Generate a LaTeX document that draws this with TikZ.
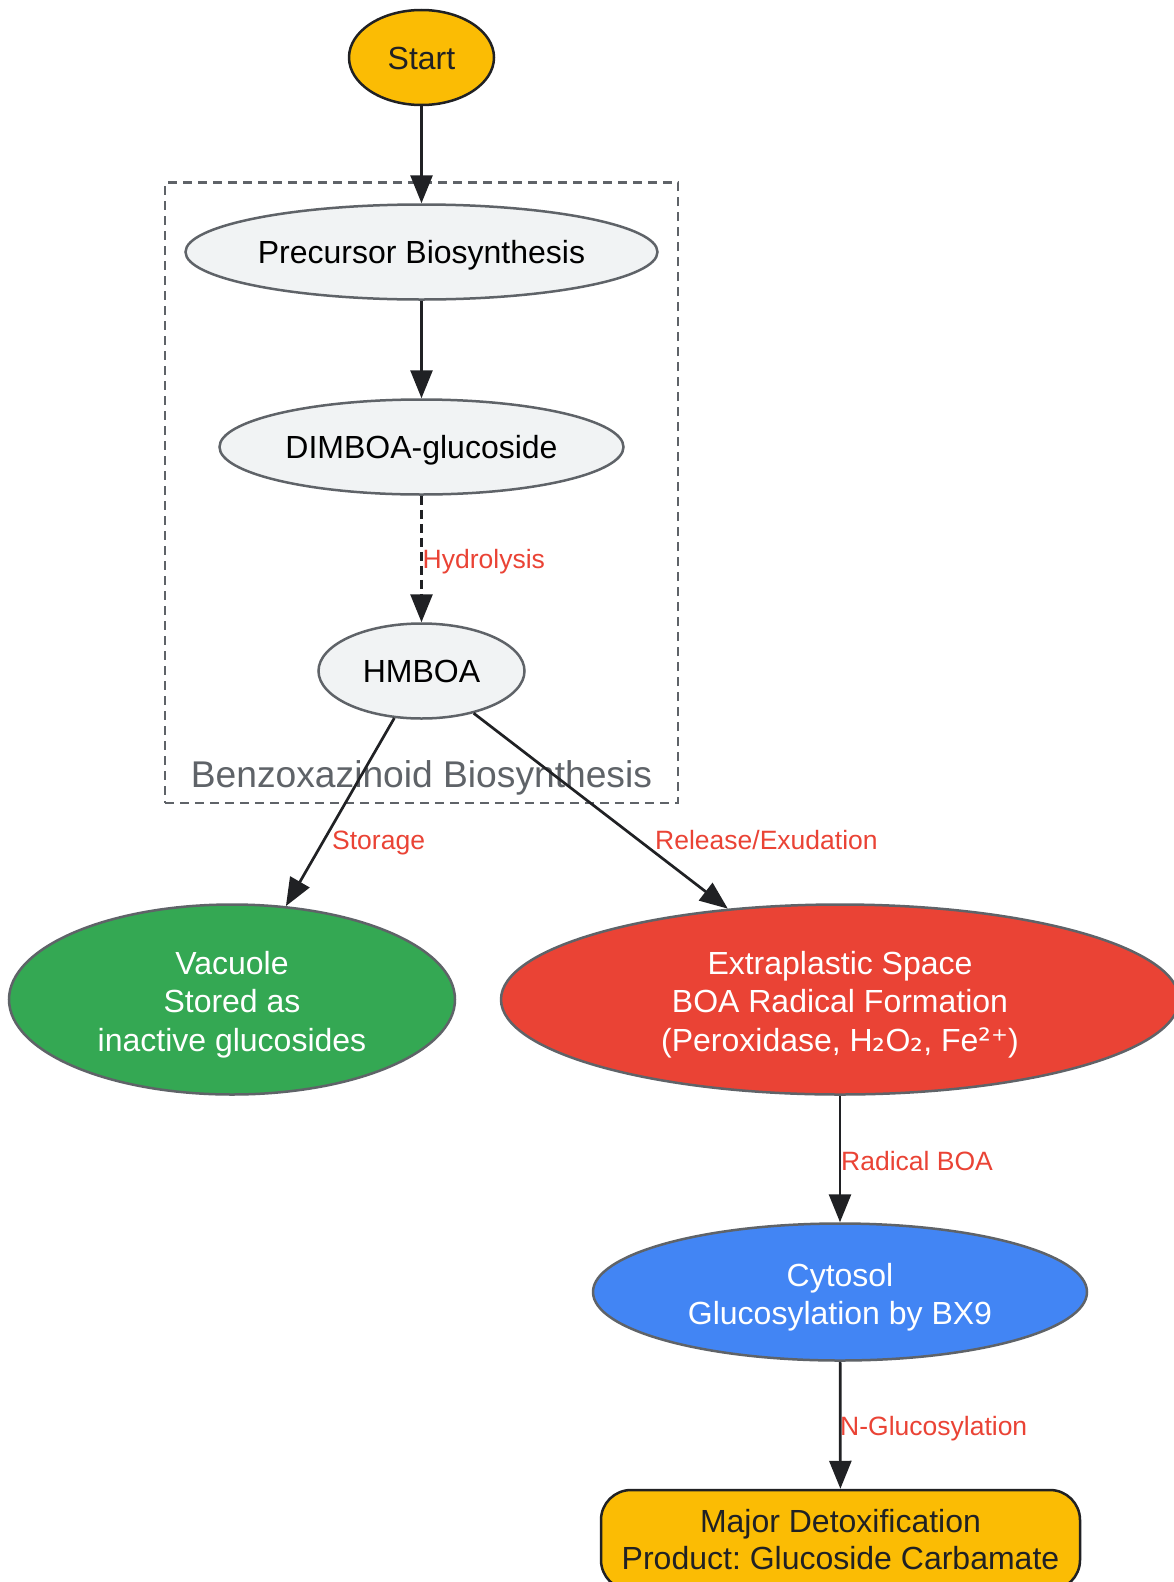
\documentclass[tikz,border=0pt]{standalone}
\usepackage{fontspec}
\setmainfont{Liberation Sans}
\newfontfamily\dvfont{DejaVu Sans}
\usetikzlibrary{shapes.geometric,arrows.meta}
\frenchspacing
\definecolor{cgrey}{HTML}{5F6368}
\definecolor{cfill}{HTML}{F1F3F4}
\definecolor{cyel}{HTML}{FBBC04}
\definecolor{cgreen}{HTML}{34A853}
\definecolor{cred}{HTML}{EA4335}
\definecolor{cblue}{HTML}{4285F4}
\definecolor{cdark}{HTML}{202124}
\tikzset{
  nodefont/.style={font=\fontsize{32}{38.3}\selectfont},
  oneline/.style={text height=30pt, text depth=7pt},
  greynode/.style={ellipse, draw=cgrey, fill=cfill, line width=2.5pt, inner sep=0pt, text=black, nodefont, oneline},
  colnode/.style={ellipse, draw=cgrey, line width=2.5pt, inner sep=0pt},
  coltext/.style={text=white, nodefont, align=center, inner sep=0pt},
  startnode/.style={ellipse, draw=cdark, fill=cyel, line width=2.5pt, inner sep=0pt, text=cdark, nodefont, oneline},
  endnode/.style={rectangle, rounded corners=30pt, draw=cdark, fill=cyel, line width=2.5pt, inner sep=0pt, text=cdark, align=center, font=\fontsize{32}{37}\selectfont},
  arr/.style={draw=cdark, line width=2.7pt, -{Triangle[length=28pt,width=22pt]}},
  elabel/.style={text=cred, font=\fontsize{26.5}{30}\selectfont, inner sep=0pt, anchor=west, text height=19.3pt, text depth=0pt},
  cluster/.style={draw=cgrey, line width=2.7pt, dash pattern=on 9pt off 6pt, rectangle, inner sep=0pt}
}
\begin{document}
\begin{tikzpicture}[x=1pt,y=-1pt]
\useasboundingbox (0,0) rectangle (1174,1582);
\clip (0,0) rectangle (1174,1582);
\fill[white] (0,0) rectangle (1174,1582);

% cluster
\node[cluster, minimum width=513pt, minimum height=620.5pt] (clus) at (421.5,492.75) {};
\node[text=cgrey, font=\fontsize{37.2}{40}\selectfont, inner sep=0pt, text height=27.4pt, text depth=0pt] (cluslabel) at (421.5,773.6) {Benzoxazinoid Biosynthesis};

% nodes
\node[startnode, minimum width=145pt, minimum height=95pt] (start) at (421.5,57.5) {Start};
\node[greynode, minimum width=472pt, minimum height=95pt] (prec) at (421.5,252) {Precursor Biosynthesis};
\node[greynode, minimum width=404pt, minimum height=95pt] (dimboa) at (421.5,447) {DIMBOA-glucoside};
\node[greynode, minimum width=206pt, minimum height=95pt] (hmboa) at (421.5,671) {HMBOA};
\node[colnode, fill=cgreen, minimum width=446pt, minimum height=190pt] (vac) at (232,999.5) {};
\node[coltext] (vactext) at ([yshift=-5pt]vac.center) {Vacuole\\Stored as\\inactive glucosides};
\node[colnode, fill=cred, minimum width=678pt, minimum height=190pt] (extra) at (840,999.5) {};
\node[coltext] (extratext) at ([yshift=-5pt]extra.center) {Extraplastic Space\\BOA Radical Formation\\(Peroxidase, H{\dvfont ₂}O{\dvfont ₂}, Fe{\dvfont ²⁺})};
\node[colnode, fill=cblue, minimum width=494pt, minimum height=137pt] (cyto) at (840,1292) {};
\node[coltext] (cytotext) at ([yshift=-5pt]cyto.center) {Cytosol\\Glucosylation by BX9};
\node[endnode, minimum width=479pt, minimum height=100pt] (final) at (840.5,1540) {Major Detoxification\\Product: Glucoside Carbamate};

% edges
\draw[arr] (start) -- (prec);
\draw[arr] (prec) -- (dimboa);
\draw[arr, dash pattern=on 9pt off 5pt] (dimboa) -- (hmboa);
\draw[arr] (hmboa.240) -- (vac.60);
\draw[arr] (hmboa.321) -- (extra.141.5);
\draw[arr] (extra) -- (cyto);
\draw[arr] (cyto) -- (final);

% edge labels
\node[elabel] (lhyd) at (422.5,559) {Hydrolysis};
\node[elabel] (lsto) at (332,840) {Storage};
\node[elabel] (lrel) at (655,840) {Release/Exudation};
\node[elabel] (lrad) at (841,1161) {Radical BOA};
\node[elabel] (lnglu) at (840,1426) {N-Glucosylation};
\end{tikzpicture}
\end{document}
